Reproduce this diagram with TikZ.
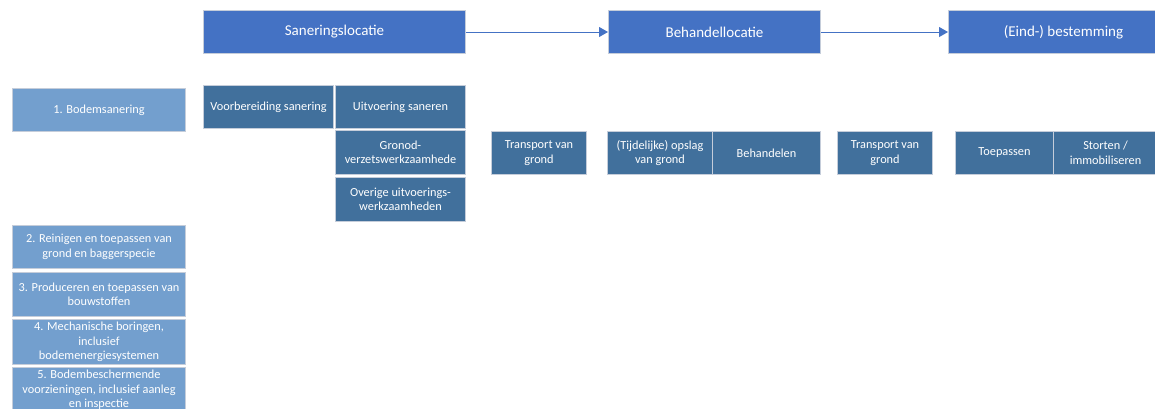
\documentclass[tikz,border=0pt]{standalone}
\usepackage{fontspec}
\setmainfont{Carlito}
\usetikzlibrary{arrows.meta}
\definecolor{topblue}{HTML}{4472C4}
\definecolor{darkblue}{HTML}{41709C}
\definecolor{lightblue}{HTML}{739FCE}
\definecolor{edge}{HTML}{C5CDDA}
\begin{document}
\begin{tikzpicture}[x=1pt,y=-1pt,
  bx/.style={draw=edge, line width=1pt, text=white, align=center, inner sep=1pt, anchor=north west},
  topbox/.style={bx, fill=topblue, font=\fontsize{15}{17}\selectfont},
  darkbox/.style={bx, fill=darkblue, font=\fontsize{12.3}{14.5}\selectfont},
  lightbox/.style={bx, fill=lightblue, font=\fontsize{12.3}{14.5}\selectfont},
  flow/.style={draw=topblue, line width=1pt, -{Triangle[length=9pt,width=10pt]}}]
\useasboundingbox (0,0) rectangle (1155,408);
% top row
\node[topbox, minimum width=262pt, minimum height=43pt] (san) at (203,10) {Saneringslocatie};
\node[topbox, minimum width=212pt, minimum height=43pt] (beh) at (608,10) {Behandellocatie};
\node[topbox, minimum width=230pt, minimum height=43pt] (eind) at (948,10) {(Eind-) bestemming};
\draw[flow] (san.east) -- (beh.west);
\draw[flow] (beh.east) -- (eind.west);
% left column
\node[lightbox, minimum width=173pt, minimum height=43pt] (b1) at (12,88) {1. Bodemsanering};
\node[lightbox, minimum width=173pt, minimum height=43pt] (b2) at (12,225) {2. Reinigen en toepassen van\\grond en baggerspecie};
\node[lightbox, minimum width=173pt, minimum height=44pt] (b3) at (12,272) {3. Produceren en toepassen van\\bouwstoffen};
\node[lightbox, minimum width=173pt, minimum height=45pt] (b4) at (12,319) {4. Mechanische boringen,\\inclusief\\bodemenergiesystemen};
\node[lightbox, minimum width=173pt, minimum height=45pt] (b5) at (12,367) {5. Bodembeschermende\\voorzieningen, inclusief aanleg\\en inspectie};
% sanering
\node[darkbox, minimum width=130pt, minimum height=43pt] (voor) at (203,85) {Voorbereiding sanering};
\node[darkbox, minimum width=130pt, minimum height=43pt] (uit) at (335,85) {Uitvoering saneren};
\node[darkbox, minimum width=130pt, minimum height=44pt] (gron) at (335,130) {Gronod-\\verzetswerkzaamhede};
\node[darkbox, minimum width=130pt, minimum height=44pt] (over) at (335,177) {Overige uitvoerings-\\werkzaamheden};
% transport
\node[darkbox, minimum width=95pt, minimum height=43pt] (tr1) at (491,131) {Transport van\\grond};
\node[darkbox, minimum width=105pt, minimum height=43pt] (ops) at (607,131) {(Tijdelijke) opslag\\van grond};
\node[darkbox, minimum width=108pt, minimum height=43pt] (bhd) at (712,131) {Behandelen};
\node[darkbox, minimum width=95pt, minimum height=43pt] (tr2) at (837,131) {Transport van\\grond};
\node[darkbox, minimum width=98pt, minimum height=43pt] (toe) at (955,131) {Toepassen};
\node[darkbox, minimum width=104pt, minimum height=43pt] (sto) at (1053,131) {Storten /\\immobiliseren};
\end{tikzpicture}
\end{document}
